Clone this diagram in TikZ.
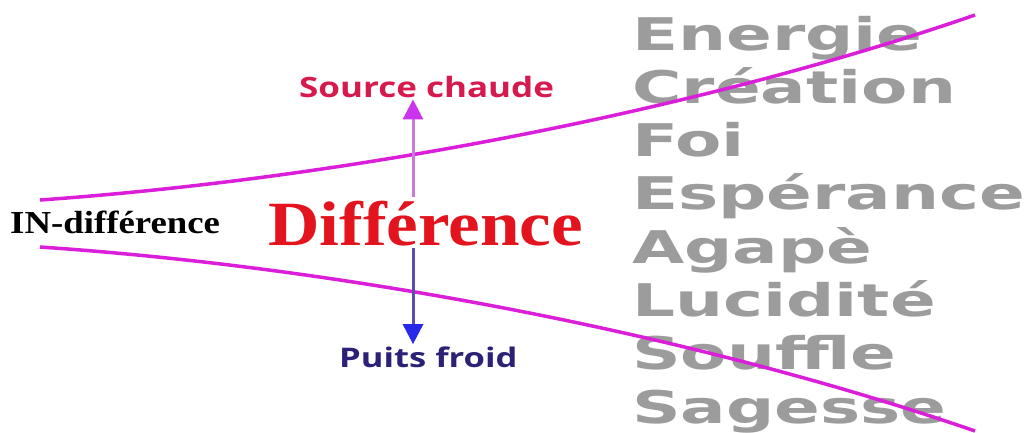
\documentclass[tikz,border=0pt]{standalone}
\usepackage{fontspec}
\usepackage{xcolor}
\usetikzlibrary{arrows.meta}
\newfontfamily\motfont{DejaVu Sans}
\newfontfamily\titrefont{Open Sans}
\newfontfamily\callifont{Liberation Serif}
\definecolor{courbemag}{HTML}{DA1EDA}
\definecolor{diffrouge}{HTML}{E3141E}
\definecolor{chaudrouge}{HTML}{D61A4E}
\definecolor{froidbleu}{HTML}{2B2277}
\definecolor{motgris}{HTML}{9C9C9C}
\definecolor{flecheviolet}{HTML}{C87ADC}
\definecolor{pointeviolet}{HTML}{CC33EE}
\definecolor{flechebleu}{HTML}{5A4FB0}
\definecolor{pointebleu}{HTML}{2828E8}

\begin{document}
\begin{tikzpicture}[x=1pt, y=-1pt, >=Latex,
  mot/.style={anchor=base west, inner sep=0pt, text=motgris, font=\motfont\bfseries\fontsize{45}{45}\selectfont},
  pole/.style={anchor=base west, inner sep=2pt, font=\titrefont\bfseries\fontsize{28}{28}\selectfont}]
  \fill[white] (0,0) rectangle (1031,432);
  \useasboundingbox (0,0) rectangle (1031,432);

  % Valeurs a droite
  \foreach \w [count=\i from 0] in {Energie, Création, Foi, Espérance, Agapè, Lucidité, Souffle, Sagesse}
    \node[mot] (mot\i) at (632,50+53.3*\i) {\scalebox{1.5}[1]{\w}};

  % Trompette
  \draw[courbemag, line width=3.5pt] (40,200) .. controls (350,178) and (700,110) .. (975,15);
  \draw[courbemag, line width=3.5pt] (40,247) .. controls (350,268) and (700,336) .. (975,431);

  % Textes
  \node[anchor=base west, inner sep=0pt, font=\callifont\bfseries\fontsize{32}{32}\selectfont] (indiff) at (10,233) {\scalebox{1.15}[1]{IN-différence}};
  \node[anchor=base west, inner sep=0pt, text=diffrouge, font=\callifont\bfseries\fontsize{63}{63}\selectfont] (diff) at (268,245) {\scalebox{1.13}[1]{Différence}};
  \node[pole, text=chaudrouge] (chaude) at (297,97) {\scalebox{1.25}[1]{Source chaude}};
  \node[pole, text=froidbleu, font=\titrefont\bfseries\fontsize{27}{27}\selectfont] (froid) at (337,367) {\scalebox{1.28}[1]{Puits froid}};

  % Fleches
  \coordinate (haut) at (413,197);
  \coordinate (bas) at (413,248);
  \draw[flecheviolet, line width=3pt, -{Triangle[length=20pt, width=20pt, color=pointeviolet]}] (haut) -- (haut |- chaude.south);
  \draw[flechebleu, line width=3pt, -{Triangle[length=20pt, width=20pt, color=pointebleu]}] (bas) -- (bas |- froid.north);
\end{tikzpicture}
\end{document}
